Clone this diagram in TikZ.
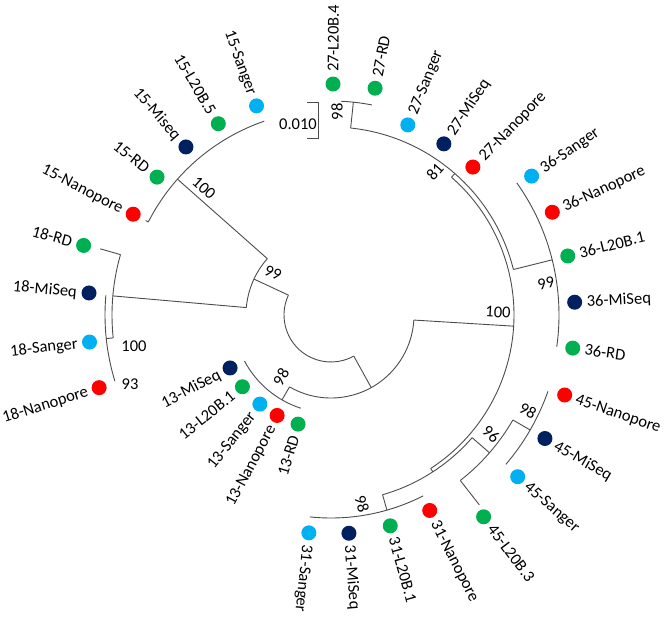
\documentclass[tikz,border=0pt]{standalone}
\usepackage{fontspec}
\setmainfont{Carlito}
\definecolor{cgreen}{HTML}{00B050}
\definecolor{cred}{HTML}{FF0000}
\definecolor{cblue}{HTML}{00B0F0}
\definecolor{cnavy}{HTML}{002060}
\newcommand\leafR[5]{%
  \node[dot, fill=#4] (#1) at (#2:#3) {};
  \node[lbl, anchor=west, rotate=#2] (#1t) at (#2:{#3+12}) {#5};
}
\newcommand\leafL[5]{%
  \node[dot, fill=#4] (#1) at (#2:#3) {};
  \node[lbl, anchor=east, rotate={#2-180}] (#1t) at (#2:{#3+12}) {#5};
}
\begin{document}
\begin{tikzpicture}[x=1pt,y=1pt,
  br/.style={draw=black!70, line width=0.9pt},
  dot/.style={circle, inner sep=0pt, minimum size=15pt},
  lbl/.style={inner sep=0pt, text height=11.5pt, text depth=1.1pt, font=\fontsize{16.5}{18}\selectfont},
  bs/.style={inner sep=0pt, font=\fontsize{16.5}{18}\selectfont}]
\useasboundingbox (-331,-302) rectangle (335,315);
% root
\draw[br] (155:47) arc[start angle=155, end angle=299, radius=47];
\draw[br] (155:47) -- (155:85);
\draw[br] (138.5:85) arc[start angle=138.5, end angle=175, radius=85];
% 15 clade
\draw[br] (138.5:85) -- (138.5:205);
\draw[br] (109:205) arc[start angle=109, end angle=153, radius=205];
\draw[br] (153:205) -- (153:208);
% 18 clade
\draw[br] (175:85) -- (175:219);
\draw[br] (164:219) arc[start angle=164, end angle=186, radius=219];
\draw[br] (164:219) -- (164:240);
\draw[br] (186:219) -- (186:226);
\draw[br] (175:226) arc[start angle=175, end angle=197, radius=226];
% Y node
\draw[br] (299:47) -- (299:83);
\draw[br] (240:83) arc[start angle=240, end angle=356.5, radius=83];
% 13 clade
\draw[br] (240:83) -- (240:98);
\draw[br] (208:98) arc[start angle=208, end angle=252, radius=98];
% big node
\draw[br] (356.5:83) -- (356.5:183);
\draw[br] (-57:183) arc[start angle=-57, end angle=48.8, radius=183];
% 81 node
\draw[br] (48.8:183) -- (48.8:188);
\draw[br] (14:188) arc[start angle=14, end angle=84, radius=188];
\draw[br] (84:188) -- (84:214);
\draw[br] (79:214) arc[start angle=79, end angle=87.3, radius=214];
% 36 clade
\draw[br] (14:188) -- (14:228);
\draw[br] (-8:228) arc[start angle=-8, end angle=35.4, radius=228];
% B node
\draw[br] (-57:183) -- (-57:187);
\draw[br] (-74:187) arc[start angle=-74, end angle=-41, radius=187];
\draw[br] (-41:187) -- (-41:210);
\draw[br] (-52:210) arc[start angle=-52, end angle=-30, radius=210];
\draw[br] (-52:210) -- (-52:241);
\draw[br] (-30:210) -- (-30:230);
\draw[br] (-40.5:230) arc[start angle=-40.5, end angle=-19.4, radius=230];
\draw[br] (-74:187) -- (-74:203);
\draw[br] (-96:203) arc[start angle=-96, end angle=-63, radius=203];
% scale bar
\draw[br] (-24,213) -- (-13,213) -- (-13,177) -- (-24,177);
\node[bs] (scale) at (-33,191) {0.010};
% leaves
\leafL{a1}{153}{222}{cred}{15-Nanopore}
\leafL{a2}{141.6}{222}{cgreen}{15-RD}
\leafL{a3}{130.8}{222}{cnavy}{15-Miseq}
\leafL{a4}{120.5}{222}{cgreen}{15-L20B.5}
\leafL{a5}{109.6}{222}{cblue}{15-Sanger}
\leafR{b1}{89.5}{231}{cgreen}{27-L20B.4}
\leafR{b2}{79}{231}{cgreen}{27-RD}
\leafR{b3}{68}{205}{cblue}{27-Sanger}
\leafR{b4}{56.6}{205}{cnavy}{27-MiSeq}
\leafR{b5}{46.2}{205}{cred}{27-Nanopore}
\leafR{c1}{34.7}{244}{cblue}{36-Sanger}
\leafR{c2}{24.9}{244}{cred}{36-Nanopore}
\leafR{c3}{14}{244}{cgreen}{36-L20B.1}
\leafR{c4}{3}{244}{cnavy}{36-MiSeq}
\leafR{c5}{-7.8}{244}{cgreen}{36-RD}
\leafR{d1}{-18.9}{247}{cred}{45-Nanopore}
\leafR{d2}{-30}{247}{cnavy}{45-MiSeq}
\leafR{d3}{-40.9}{247}{cblue}{45-Sanger}
\leafR{d4}{-52.9}{253}{cgreen}{45-L20B.3}
\leafR{e1}{-63.2}{219}{cred}{31-Nanopore}
\leafR{e2}{-74.3}{219}{cgreen}{31-L20B.1}
\leafR{e3}{-85.3}{219}{cnavy}{31-MiSeq}
\leafR{e4}{-95.8}{219}{cblue}{31-Sanger}
\leafL{f1}{253.2}{114}{cgreen}{13-RD}
\leafL{f2}{241.8}{114}{cred}{13-Nanopore}
\leafL{f3}{231.4}{114}{cblue}{13-Sanger}
\leafL{f4}{219}{114}{cgreen}{13-L20B.1}
\leafL{f5}{207.7}{114}{cnavy}{13-MiSeq}
\leafL{g1}{197.4}{243}{cred}{18-Nanopore}
\leafL{g2}{186.4}{243}{cblue}{18-Sanger}
\leafL{g3}{174.8}{243}{cnavy}{18-MiSeq}
\leafL{g4}{164.3}{257}{cgreen}{18-RD}
% bootstrap values
\node[bs, rotate=-24] (n1) at (-58,42) {99};
\node[bs, rotate=-41.5] (n2) at (-127,127) {100};
\node[bs] (n3) at (-197,-31) {100};
\node[bs] (n4) at (-201,-69) {93};
\node[bs, rotate=60] (n5) at (-50,-62) {98};
\node[bs, rotate=90] (n6) at (6,203) {98};
\node[bs, rotate=49] (n7) at (104,143) {81};
\node[bs, rotate=14] (n8) at (215,32) {99};
\node[bs, rotate=-3.5] (n9) at (167,3) {100};
\node[bs, rotate=-41] (n10) at (160,-119) {96};
\node[bs, rotate=-30] (n11) at (197,-96) {98};
\node[bs, rotate=-74] (n12) at (31,-189) {98};
\end{tikzpicture}
\end{document}
